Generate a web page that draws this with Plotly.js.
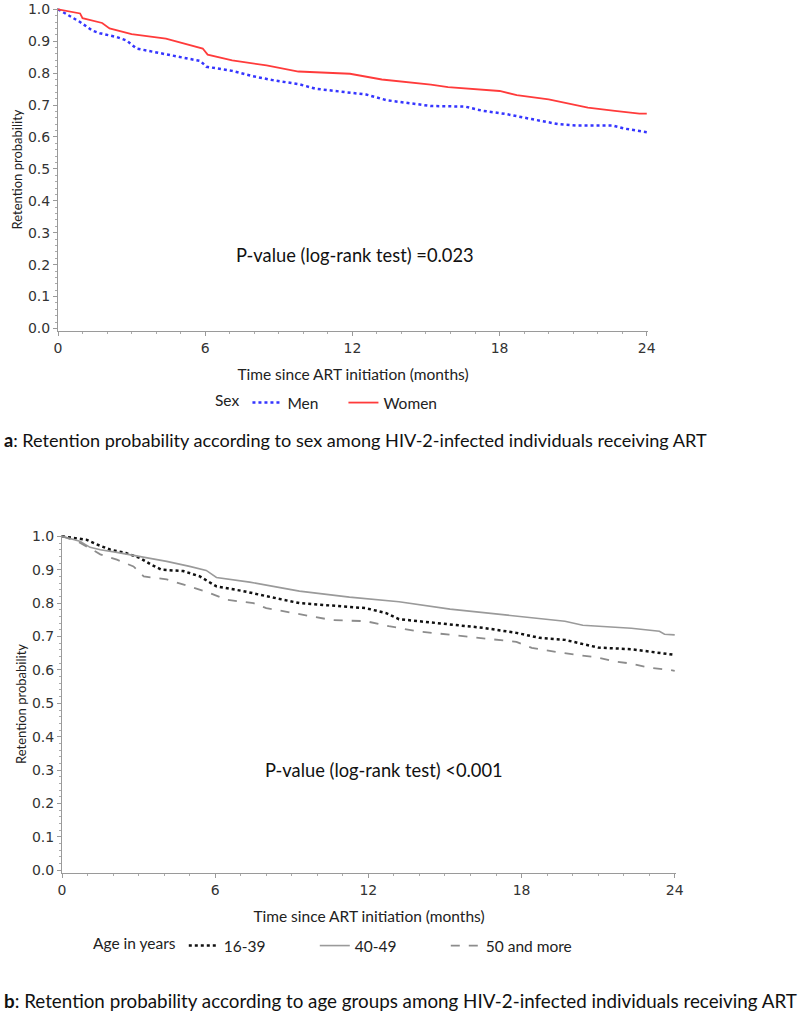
<!DOCTYPE html>
<html>
<head>
<meta charset="utf-8">
<script src="https://cdn.plot.ly/plotly-3.0.1.min.js"></script>
<style>html,body{margin:0;padding:0;background:#fff;}#chart{width:800px;height:1013px;}</style>
</head>
<body>
<div id="chart"></div>
<script>
// ---- Panel a: retention by sex ----
const menTime = [0, 0.35, 0.9, 1.4, 1.7, 2.4, 2.8, 3.2, 4.1, 5.1, 5.8, 6.05, 7.1, 7.9, 8.75, 9.84, 10.5, 12.56, 13.4, 15.2, 16.6, 17.3, 18.25, 19.3, 20.4, 21.1, 22.6, 23.1, 23.9, 24.0];
const menSurv = [1.0, 0.985, 0.96, 0.933, 0.925, 0.913, 0.902, 0.877, 0.863, 0.848, 0.838, 0.82, 0.807, 0.791, 0.778, 0.765, 0.751, 0.733, 0.715, 0.697, 0.695, 0.682, 0.672, 0.656, 0.64, 0.636, 0.636, 0.626, 0.615, 0.615];
const womenTime = [0, 0.5, 0.9, 1.0, 1.8, 2.1, 3.0, 4.4, 5.5, 5.9, 6.1, 7.1, 8.5, 9.8, 11.9, 13.2, 15.2, 15.9, 18.0, 18.7, 20.0, 20.7, 21.6, 22.7, 23.7, 24.0];
const womenSurv = [1.0, 0.993, 0.987, 0.972, 0.957, 0.94, 0.922, 0.908, 0.887, 0.877, 0.858, 0.84, 0.824, 0.805, 0.798, 0.78, 0.764, 0.756, 0.744, 0.731, 0.718, 0.706, 0.692, 0.682, 0.673, 0.673];

// ---- Panel b: retention by age group ----
const age1Time = [0, 0.95, 1.35, 1.9, 2.5, 3.05, 3.5, 3.9, 4.75, 5.4, 6.05, 7.1, 8.0, 9.3, 11.9, 12.7, 13.2, 14.5, 16.5, 17.8, 18.7, 19.7, 20.4, 21.0, 22.3, 23.6, 24.0];
const age1Surv = [1.0, 0.99, 0.976, 0.96, 0.95, 0.935, 0.915, 0.9, 0.896, 0.88, 0.85, 0.836, 0.821, 0.8, 0.785, 0.77, 0.752, 0.741, 0.726, 0.711, 0.696, 0.69, 0.678, 0.667, 0.662, 0.648, 0.645];
const age2Time = [0, 0.7, 1.1, 1.5, 2.15, 3.05, 4.1, 5.0, 5.65, 6.05, 7.35, 8.65, 9.3, 11.26, 13.2, 15.2, 17.1, 18.4, 19.7, 20.4, 22.3, 23.4, 23.6, 24.0];
const age2Surv = [1.0, 0.985, 0.967, 0.96, 0.952, 0.94, 0.925, 0.91, 0.898, 0.877, 0.863, 0.845, 0.836, 0.818, 0.804, 0.782, 0.767, 0.756, 0.746, 0.734, 0.725, 0.716, 0.707, 0.705];
const age3Time = [0, 0.6, 1.1, 1.5, 2.15, 2.8, 3.2, 4.1, 5.0, 5.8, 6.45, 7.5, 8.0, 9.3, 10.6, 11.9, 12.8, 13.9, 15.8, 17.8, 18.4, 19.5, 21.0, 21.7, 22.3, 23.0, 23.8, 24.0];
const age3Surv = [1.0, 0.985, 0.964, 0.946, 0.93, 0.91, 0.88, 0.871, 0.85, 0.83, 0.81, 0.8, 0.785, 0.767, 0.749, 0.746, 0.731, 0.716, 0.701, 0.684, 0.666, 0.652, 0.637, 0.625, 0.619, 0.607, 0.6, 0.597];

const xTicks = [0, 6, 12, 18, 24];
const yTicks = [0, 0.1, 0.2, 0.3, 0.4, 0.5, 0.6, 0.7, 0.8, 0.9, 1.0];
const yTickText = ['0.0','0.1','0.2','0.3','0.4','0.5','0.6','0.7','0.8','0.9','1.0'];

const H = 1013, W = 800;
const py = p => (H - p) / H;
const px = p => p / W;

const traces = [
  {x: menTime, y: menSurv, name: 'Men', mode: 'lines', line: {shape: 'linear', color: '#3535ff', width: 2.5, dash: 'dot'}, xaxis: 'x', yaxis: 'y', legend: 'legend'},
  {x: womenTime, y: womenSurv, name: 'Women', mode: 'lines', line: {shape: 'linear', color: '#ff3b3b', width: 1.8}, xaxis: 'x', yaxis: 'y', legend: 'legend'},
  {x: age1Time, y: age1Surv, name: '16-39', mode: 'lines', line: {shape: 'linear', color: '#111111', width: 2.5, dash: 'dot'}, xaxis: 'x2', yaxis: 'y2', legend: 'legend2'},
  {x: age2Time, y: age2Surv, name: '40-49', mode: 'lines', line: {shape: 'linear', color: '#9a9a9a', width: 1.6}, xaxis: 'x2', yaxis: 'y2', legend: 'legend2'},
  {x: age3Time, y: age3Surv, name: '50 and more', mode: 'lines', line: {shape: 'linear', color: '#8c8c8c', width: 1.8, dash: 'dash'}, xaxis: 'x2', yaxis: 'y2', legend: 'legend2'}
];

const tickFont = {family: 'DejaVu Sans', size: 14, color: '#333'};
const lblFont = {family: 'Lato', size: 15.5, color: '#222'};

function xAxis(domain, anchor) {
  return {
    domain: domain, anchor: anchor, range: [0, 24.05], tickvals: xTicks, ticktext: xTicks.map(String),
    showline: true, linecolor: '#9a9a9a', linewidth: 1, ticks: 'outside', ticklen: 4, tickcolor: '#9a9a9a',
    minor: {dtick: 1, ticks: 'outside', ticklen: 2, tickcolor: '#aaa'},
    showgrid: false, zeroline: false, tickfont: tickFont,
    title: {text: 'Time since ART initiation (months)', font: lblFont, standoff: 14}
  };
}
function yAxis(domain, anchor) {
  return {
    domain: domain, anchor: anchor, range: [-0.008, 1.004], tickvals: yTicks, ticktext: yTickText,
    ticklabeloverflow: 'allow',
    showline: true, linecolor: '#9a9a9a', linewidth: 1, ticks: 'outside', ticklen: 4, tickcolor: '#9a9a9a',
    minor: {dtick: 0.02, ticks: 'outside', ticklen: 2, tickcolor: '#aaa'},
    showgrid: false, zeroline: false, tickfont: tickFont,
    title: {text: 'Retention probability', font: {family: 'Lato', size: 13, color: '#222'}, standoff: 2}
  };
}

const layout = {
  width: W, height: H, margin: {l: 0, r: 0, t: 0, b: 0},
  paper_bgcolor: '#fff', plot_bgcolor: '#fff',
  showlegend: true,
  xaxis: xAxis([px(58), px(648)], 'y'),
  yaxis: yAxis([py(331), py(8)], 'x'),
  xaxis2: xAxis([px(62), px(676)], 'y2'),
  yaxis2: yAxis([py(873), py(535)], 'x2'),
  legend: {
    orientation: 'h', x: px(213), xanchor: 'left', y: py(403), yanchor: 'middle',
    title: {text: 'Sex', side: 'left', font: lblFont}, font: lblFont,
    entrywidth: 51, bgcolor: 'rgba(0,0,0,0)'
  },
  legend2: {
    orientation: 'h', x: px(91), xanchor: 'left', y: py(946), yanchor: 'middle',
    title: {text: 'Age in years', side: 'left', font: lblFont}, font: lblFont,
    entrywidth: 86, bgcolor: 'rgba(0,0,0,0)'
  },
  annotations: [
    {xref: 'paper', yref: 'paper', x: px(355), y: py(255), xanchor: 'center', yanchor: 'middle', showarrow: false,
     text: 'P-value (log-rank test) =0.023', font: {family: 'Lato', size: 18.3, color: '#111'}},
    {xref: 'paper', yref: 'paper', x: px(384), y: py(770), xanchor: 'center', yanchor: 'middle', showarrow: false,
     text: 'P-value (log-rank test) <0.001', font: {family: 'Lato', size: 18.3, color: '#111'}},
    {xref: 'paper', yref: 'paper', x: px(2), y: py(440), xanchor: 'left', yanchor: 'middle', showarrow: false,
     text: '<b>a</b>: Retention probability according to sex among HIV-2-infected individuals receiving ART', font: {family: 'Lato', size: 18.1, color: '#111'}},
    {xref: 'paper', yref: 'paper', x: px(2), y: py(1000), xanchor: 'left', yanchor: 'middle', showarrow: false,
     text: '<b>b</b>: Retention probability according to age groups among HIV-2-infected individuals receiving ART', font: {family: 'Lato', size: 18.8, color: '#111'}}
  ]
};

Plotly.newPlot('chart', traces, layout, {staticPlot: true, displayModeBar: false});
</script>
</body>
</html>
